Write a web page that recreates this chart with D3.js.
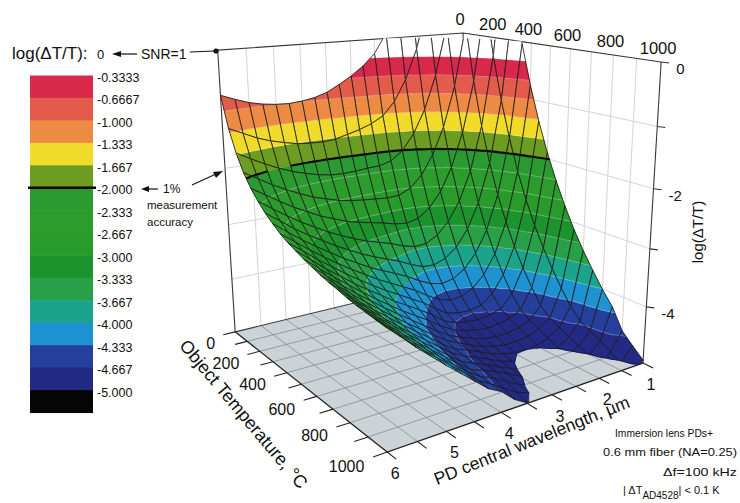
<!DOCTYPE html>
<html>
<head>
<meta charset="utf-8">
<script src="https://cdn.jsdelivr.net/npm/d3@7"></script>
<style>
body{margin:0;background:#fff;}
svg text{font-family:"Liberation Sans",Arial,Helvetica,sans-serif;fill:#111;}
</style>
</head>
<body>
<svg id="chart" width="740" height="503"></svg>
<script>
// object temperature (rows) and PD central wavelength (columns)
var tempC = [0,50,100,150,200,250,300,350,400,450,500,550,600,650,700,750,800,850,900,950,1000];
var wavelength = [1,1.25,1.5,1.75,2,2.25,2.5,2.75,3,3.25,3.5,3.75,4,4.25,4.5,4.75,5,5.25,5.5,5.75,6];

// log(dT/T), one row per temperature
var logDT = [
 [12.45,8.19,5.45,3.59,2.26,1.30,0.60,0.09,-0.26,-0.47,-0.63,-0.76,-0.88,-0.95,-0.99,-1.01,-1.00,-0.97,-0.92,-0.84,-0.75],
 [8.99,5.43,3.16,1.64,0.57,-0.20,-0.75,-1.13,-1.37,-1.49,-1.57,-1.63,-1.69,-1.71,-1.70,-1.68,-1.63,-1.57,-1.49,-1.38,-1.27],
 [6.46,3.42,1.50,0.22,-0.67,-1.29,-1.72,-2.01,-2.17,-2.23,-2.24,-2.26,-2.27,-2.26,-2.22,-2.16,-2.09,-2.00,-1.89,-1.77,-1.64],
 [4.53,1.89,0.23,-0.86,-1.60,-2.11,-2.46,-2.67,-2.77,-2.78,-2.76,-2.74,-2.71,-2.67,-2.60,-2.53,-2.43,-2.32,-2.20,-2.06,-1.92],
 [3.02,0.69,-0.76,-1.70,-2.33,-2.76,-3.03,-3.19,-3.24,-3.21,-3.15,-3.10,-3.05,-2.99,-2.90,-2.81,-2.69,-2.57,-2.43,-2.28,-2.13],
 [1.80,-0.28,-1.56,-2.38,-2.92,-3.27,-3.49,-3.61,-3.62,-3.56,-3.47,-3.40,-3.33,-3.24,-3.14,-3.03,-2.90,-2.77,-2.62,-2.46,-2.29],
 [0.80,-1.07,-2.21,-2.93,-3.40,-3.70,-3.87,-3.95,-3.93,-3.84,-3.73,-3.64,-3.55,-3.45,-3.33,-3.21,-3.07,-2.93,-2.78,-2.60,-2.43],
 [-0.04,-1.73,-2.76,-3.40,-3.80,-4.05,-4.19,-4.23,-4.18,-4.07,-3.94,-3.83,-3.73,-3.62,-3.49,-3.36,-3.21,-3.06,-2.90,-2.72,-2.54],
 [-0.75,-2.30,-3.22,-3.79,-4.14,-4.35,-4.45,-4.47,-4.40,-4.27,-4.12,-4.00,-3.88,-3.76,-3.62,-3.48,-3.33,-3.17,-3.00,-2.82,-2.64],
 [-1.36,-2.78,-3.62,-4.12,-4.43,-4.60,-4.64,-4.63,-4.58,-4.43,-4.27,-4.14,-4.01,-3.88,-3.74,-3.59,-3.43,-3.26,-3.09,-2.90,-2.72],
 [-1.89,-3.20,-3.96,-4.41,-4.64,-4.70,-4.73,-4.71,-4.67,-4.58,-4.40,-4.26,-4.12,-3.99,-3.83,-3.68,-3.52,-3.34,-3.17,-2.97,-2.78],
 [-2.35,-3.56,-4.26,-4.63,-4.74,-4.79,-4.81,-4.78,-4.73,-4.65,-4.52,-4.36,-4.22,-4.08,-3.92,-3.76,-3.59,-3.41,-3.23,-3.04,-2.84],
 [-2.76,-3.88,-4.53,-4.74,-4.83,-4.87,-4.88,-4.85,-4.79,-4.70,-4.61,-4.46,-4.31,-4.15,-3.99,-3.83,-3.65,-3.48,-3.29,-3.09,-2.89],
 [-3.13,-4.17,-4.68,-4.83,-4.91,-4.94,-4.94,-4.90,-4.84,-4.75,-4.65,-4.54,-4.38,-4.22,-4.06,-3.89,-3.71,-3.53,-3.34,-3.14,-2.94],
 [-3.45,-4.43,-4.77,-4.91,-4.98,-5.00,-4.99,-4.95,-4.88,-4.78,-4.68,-4.60,-4.45,-4.28,-4.11,-3.94,-3.76,-3.58,-3.39,-3.18,-2.98],
 [-3.74,-4.62,-4.86,-4.99,-5.05,-5.06,-5.04,-4.99,-4.92,-4.82,-4.72,-4.63,-4.51,-4.34,-4.16,-3.99,-3.81,-3.62,-3.42,-3.22,-3.01],
 [-4.01,-4.72,-4.94,-5.05,-5.10,-5.11,-5.08,-5.04,-4.95,-4.85,-4.75,-4.66,-4.56,-4.39,-4.21,-4.03,-3.84,-3.65,-3.46,-3.25,-3.05],
 [-4.25,-4.81,-5.01,-5.11,-5.15,-5.15,-5.13,-5.07,-4.99,-4.88,-4.77,-4.68,-4.60,-4.43,-4.25,-4.07,-3.88,-3.69,-3.49,-3.28,-3.08],
 [-4.60,-4.93,-5.08,-5.17,-5.20,-5.19,-5.16,-5.10,-5.04,-4.96,-4.84,-4.71,-4.62,-4.47,-4.29,-4.10,-3.91,-3.72,-3.52,-3.31,-3.10],
 [-4.78,-5.02,-5.14,-5.22,-5.24,-5.23,-5.19,-5.13,-5.08,-5.00,-4.92,-4.78,-4.64,-4.51,-4.32,-4.13,-3.94,-3.75,-3.55,-3.33,-3.12],
 [-4.95,-5.10,-5.19,-5.26,-5.28,-5.27,-5.23,-5.16,-5.12,-5.06,-4.99,-4.86,-4.66,-4.54,-4.35,-4.16,-3.97,-3.77,-3.57,-3.35,-3.14]
];

// colour levels, bottom to top
var levels = [-5,-4.6667,-4.3333,-4,-3.6667,-3.3333,-3,-2.6667,-2.3333,-2,-1.6667,-1.3333,-1,-0.6667,-0.3333,0];
var levelColors = ["#232a85","#253f9c","#1f93d1","#1ba38b","#27a047","#1c932d","#289b2b","#2c9c2d","#2b9b31","#6c9c22","#f0db2b","#ed8b45","#e35b4a","#d9294a","#ffffff"];
var colorbarLabels = ["-0.3333","-0.6667","-1.000","-1.333","-1.667","-2.000","-2.333","-2.667","-3.000","-3.333","-3.667","-4.000","-4.333","-4.667","-5.000"];
var tempTicks = [0,200,400,600,800,1000];
var waveTicks = [1,2,3,4,5,6];
var zTicks = [0,-2,-4];

var xT = d3.scaleLinear().domain([0,1000]).range([0,1]);
var yL = d3.scaleLinear().domain([1,6]).range([0,1]);
var zS = d3.scaleLinear().domain([-5,0]).range([0,1]);

// where the box corners sit on the page; used to fit a camera
var anchors = [
  [0,1,0, 235,332],[1,1,0, 387,452],[1,0,0, 644,362],
  [0,1,1, 218,50],[0,0,1, 463,33],[1,0,1, 661,61],
  [1,0,0.8, 657.5,127],[1,0,0.6, 653.5,190],[1,0,0.4, 649.5,248],[1,0,0.2, 645.6,308]
];

function fitCamera(pairs){
  var n = 11, N = [], r = [];
  for (var i=0;i<n;i++){ N.push(new Array(n).fill(0)); r.push(0); }
  pairs.forEach(function(p){
    var X=p[0],Y=p[1],Z=p[2],u=p[3],v=p[4];
    var rows = [[X,Y,Z,1,0,0,0,0,-u*X,-u*Y,-u*Z,u],[0,0,0,0,X,Y,Z,1,-v*X,-v*Y,-v*Z,v]];
    rows.forEach(function(row){
      for (var i=0;i<n;i++){ r[i]+=row[i]*row[n]; for (var j=0;j<n;j++) N[i][j]+=row[i]*row[j]; }
    });
  });
  for (var c=0;c<n;c++){
    var piv=c;
    for (var i=c+1;i<n;i++) if (Math.abs(N[i][c])>Math.abs(N[piv][c])) piv=i;
    var tmp=N[c]; N[c]=N[piv]; N[piv]=tmp; var tr=r[c]; r[c]=r[piv]; r[piv]=tr;
    for (var i=c+1;i<n;i++){
      var f=N[i][c]/N[c][c];
      for (var j=c;j<n;j++) N[i][j]-=f*N[c][j];
      r[i]-=f*r[c];
    }
  }
  var p=new Array(n);
  for (var i=n-1;i>=0;i--){ var s=r[i]; for (var j=i+1;j<n;j++) s-=N[i][j]*p[j]; p[i]=s/N[i][i]; }
  return p;
}
var cam = fitCamera(anchors);
function proj(X,Y,Z){
  var w = cam[8]*X+cam[9]*Y+cam[10]*Z+1;
  return [(cam[0]*X+cam[1]*Y+cam[2]*Z+cam[3])/w,(cam[4]*X+cam[5]*Y+cam[6]*Z+cam[7])/w,w];
}
function pt(X,Y,Z){ var p=proj(X,Y,Z); return [p[0],p[1]]; }

var svg = d3.select("#chart");
var line = d3.line();

function seg(g,a,b,stroke,w){
  g.append("line").attr("x1",a[0]).attr("y1",a[1]).attr("x2",b[0]).attr("y2",b[1])
   .attr("stroke",stroke).attr("stroke-width",w);
}

// back walls
var back = svg.append("g");
back.append("path").attr("d",line([pt(0,0,0),pt(0,1,0),pt(0,1,1),pt(0,0,1)])+"Z").attr("fill","#fff");
back.append("path").attr("d",line([pt(0,0,0),pt(1,0,0),pt(1,0,1),pt(0,0,1)])+"Z").attr("fill","#fff");
d3.range(1.5,6,0.5).forEach(function(l){ seg(back,pt(0,yL(l),0),pt(0,yL(l),1),"#cfcfcf",0.9); });
d3.range(100,1000,100).forEach(function(t){ seg(back,pt(xT(t),0,0),pt(xT(t),0,1),"#cfcfcf",0.9); });
d3.range(-4,0,1).forEach(function(z){
  seg(back,pt(0,1,zS(z)),pt(0,0,zS(z)),"#cfcfcf",0.9);
  seg(back,pt(0,0,zS(z)),pt(1,0,zS(z)),"#cfcfcf",0.9);
});

// floor
var floor = svg.append("g");
floor.append("path").attr("d",line([pt(0,0,0),pt(1,0,0),pt(1,1,0),pt(0,1,0)])+"Z").attr("fill","#cbd3d7");
d3.range(100,1000,100).forEach(function(t){ seg(floor,pt(xT(t),0,0),pt(xT(t),1,0),"#858d92",0.8); });
d3.range(1.5,6,0.5).forEach(function(l){ seg(floor,pt(0,yL(l),0),pt(1,yL(l),0),"#858d92",0.8); });

// box edges
var edges = svg.append("g").attr("fill","none");
[[pt(0,1,0),pt(0,1,1)],[pt(0,0,0),pt(0,0,1)],[pt(1,0,0),pt(1,0,1)],
 [pt(0,1,1),pt(0,0,1),pt(1,0,1)],[pt(0,1,0),pt(0,0,0),pt(1,0,0)]].forEach(function(l){
  edges.append("path").attr("d",line(l)).attr("stroke","#3a3a3a").attr("stroke-width",1.1);
});
edges.append("path").attr("d",line([pt(0,1,0),pt(1,1,0),pt(1,0,0)])).attr("stroke","#222").attr("stroke-width",1.3);
d3.range(0,1001,100).forEach(function(t){ seg(edges,pt(xT(t),1,0),pt(xT(t),1.045,0),"#222",1.1); });
d3.range(1,6.01,0.5).forEach(function(l){ seg(edges,pt(1,yL(l),0),pt(1.045,yL(l),0),"#222",1.1); });

// surface
function lerpV(a,b,t){ return {X:a.X+(b.X-a.X)*t,Y:a.Y+(b.Y-a.Y)*t,z:a.z+(b.z-a.z)*t}; }
function clipHalf(poly,level,sign){
  var out=[];
  for (var k=0;k<poly.length;k++){
    var a=poly[(k+poly.length-1)%poly.length], b=poly[k];
    var fa=sign*(a.z-level), fb=sign*(b.z-level);
    if (fb>=0){ if (fa<0) out.push(lerpV(a,b,fa/(fa-fb))); out.push(b); }
    else if (fa>=0) out.push(lerpV(a,b,fa/(fa-fb)));
  }
  return out;
}
function sp(v){ var p=proj(v.X,v.Y,zS(v.z)); return p[0].toFixed(2)+","+p[1].toFixed(2); }
function polyPath(poly){ return "M"+poly.map(sp).join("L")+"Z"; }
function isoSeg(tri,L){
  var pts=[];
  for (var k=0;k<3;k++){
    var a=tri[k], b=tri[(k+1)%3];
    if ((a.z-L)*(b.z-L)<0) pts.push(lerpV(a,b,(L-a.z)/(b.z-a.z)));
  }
  return pts.length==2 ? "M"+sp(pts[0])+"L"+sp(pts[1]) : "";
}
function clipSeg(a,b,lo,hi){
  var dz=b.z-a.z;
  if (Math.abs(dz)<1e-9) return (a.z>=lo && a.z<=hi) ? [a,b] : null;
  var t1=(lo-a.z)/dz, t2=(hi-a.z)/dz;
  var t0=Math.max(0,Math.min(t1,t2)), tE=Math.min(1,Math.max(t1,t2));
  if (t0>=tE) return null;
  return [lerpV(a,b,t0),lerpV(a,b,tE)];
}

var cells=[];
for (var i=0;i<tempC.length-1;i++){
  for (var j=0;j<wavelength.length-1;j++){
    var v=[[i,j],[i+1,j],[i+1,j+1],[i,j+1]].map(function(ij){
      return {X:xT(tempC[ij[0]]),Y:yL(wavelength[ij[1]]),z:logDT[ij[0]][ij[1]]};
    });
    var cz=d3.mean(v,function(d){ return Math.max(-5,Math.min(0,d.z)); });
    var c=proj(d3.mean(v,function(d){return d.X;}),d3.mean(v,function(d){return d.Y;}),zS(cz));
    cells.push({v:v,depth:c[2]});
  }
}
var farBig = proj(0,0,1)[2] > proj(1,1,0)[2];
cells.sort(function(a,b){ return farBig ? b.depth-a.depth : a.depth-b.depth; });

var surf = svg.append("g");
cells.forEach(function(cell){
  var v=cell.v, tris=[[v[0],v[1],v[2]],[v[0],v[2],v[3]]];
  var g=surf.append("g");
  for (var k=0;k<levelColors.length;k++){
    var d="";
    tris.forEach(function(t){
      var p=clipHalf(clipHalf(t,levels[k],1),levels[k+1],-1);
      if (p.length>=3) d+=polyPath(p);
    });
    if (d) g.append("path").attr("d",d).attr("fill",levelColors[k]).attr("stroke",levelColors[k]).attr("stroke-width",0.4);
  }
  var light="", heavy="", rim="";
  tris.forEach(function(t){
    for (var k=1;k<levels.length-2;k++){
      if (levels[k]==-2) heavy+=isoSeg(t,-2); else light+=isoSeg(t,levels[k]);
    }
    rim+=isoSeg(t,-5);
  });
  if (light) g.append("path").attr("d",light).attr("fill","none").attr("stroke","rgba(255,255,255,0.35)").attr("stroke-width",0.7);
  var mesh="";
  for (var k=0;k<4;k++){
    var s=clipSeg(v[k],v[(k+1)%4],-5,0);
    if (s) mesh+="M"+sp(s[0])+"L"+sp(s[1]);
  }
  if (mesh) g.append("path").attr("d",mesh).attr("fill","none").attr("stroke","#1c1c1c").attr("stroke-width",0.85);
  if (rim) g.append("path").attr("d",rim).attr("fill","none").attr("stroke","#15154a").attr("stroke-width",1);
  if (heavy) g.append("path").attr("d",heavy).attr("fill","none").attr("stroke","#0a0a0a").attr("stroke-width",2.2);
});

// axes labels
var lab = svg.append("g");
tempTicks.forEach(function(t){
  var p=pt(xT(t),1.06,0);
  lab.append("text").attr("x",p[0]-4).attr("y",p[1]+13).attr("text-anchor","end").attr("font-size",16).text(t);
  var q=pt(xT(t),0,1);
  lab.append("text").attr("x",q[0]-3).attr("y",q[1]-8).attr("text-anchor","middle").attr("font-size",16.5).text(t);
});
waveTicks.forEach(function(l){
  var p=pt(1,yL(l),0);
  lab.append("text").attr("x",p[0]+8).attr("y",p[1]+27).attr("text-anchor","middle").attr("font-size",16).text(l);
});
d3.range(0,-5,-1).forEach(function(z){
  var p=pt(1,0,zS(z));
  seg(lab,p,[p[0]+8,p[1]+1],"#333",1.1);
});
zTicks.forEach(function(z){
  var p=pt(1,0,zS(z));
  lab.append("text").attr("x",p[0]+15).attr("y",p[1]+12).attr("font-size",15).text(z==0?"0":"-"+Math.abs(z));
});
lab.append("text").attr("transform","translate(703,232) rotate(-90)").attr("text-anchor","middle").attr("font-size",15).text("log(\u0394T/T)");
lab.append("text").attr("transform","translate(239,418) rotate(50)").attr("text-anchor","middle").attr("font-size",18).text("Object Temperature, \u00b0C");
lab.append("text").attr("transform","translate(534,446) rotate(-22)").attr("text-anchor","middle").attr("font-size",17.5).text("PD central wavelength, \u00b5m");

// colour bar
var cb = svg.append("g");
var cbTop=75.5, cbH=22.47;
var cbColors = levelColors.slice(0,14).reverse().concat(["#050505"]);
cbColors.forEach(function(c,k){
  cb.append("rect").attr("x",30).attr("y",cbTop+k*cbH).attr("width",63).attr("height",cbH+0.5).attr("fill",c);
});
cb.append("line").attr("x1",28).attr("x2",96).attr("y1",cbTop+5*cbH).attr("y2",cbTop+5*cbH).attr("stroke","#000").attr("stroke-width",2.5);
colorbarLabels.forEach(function(s,k){
  cb.append("text").attr("x",97).attr("y",cbTop+k*cbH+6.5).attr("font-size",12.5).text(s);
});

// annotations
var an = svg.append("g");
an.append("text").attr("x",12).attr("y",59).attr("font-size",17).text("log(\u0394T/T):");
an.append("text").attr("x",97).attr("y",59).attr("font-size",13).text("0");
an.append("line").attr("x1",118).attr("x2",137).attr("y1",54).attr("y2",54).attr("stroke","#111").attr("stroke-width",1.2);
an.append("path").attr("d","M112,54L121,51L121,57Z").attr("fill","#111");
an.append("text").attr("x",141).attr("y",59).attr("font-size",14).text("SNR=1");
an.append("line").attr("x1",190).attr("x2",215).attr("y1",52).attr("y2",51).attr("stroke","#111").attr("stroke-width",1.1);
an.append("circle").attr("cx",216).attr("cy",51).attr("r",2.6).attr("fill","#111");
an.append("line").attr("x1",147).attr("x2",158).attr("y1",189).attr("y2",189).attr("stroke","#111").attr("stroke-width",1.2);
an.append("path").attr("d","M141,189L149,186L149,192Z").attr("fill","#111");
an.append("text").attr("x",163).attr("y",193).attr("font-size",12).text("1%");
an.append("line").attr("x1",192).attr("y1",185).attr("x2",216).attr("y2",174).attr("stroke","#111").attr("stroke-width",1.1);
an.append("path").attr("d","M223,171L213,172L216,178Z").attr("fill","#111");
an.append("text").attr("x",147).attr("y",209).attr("font-size",11.5).text("measurement");
an.append("text").attr("x",147).attr("y",226).attr("font-size",11.5).text("accuracy");

var note = svg.append("g").attr("font-size",11);
note.append("text").attr("x",615).attr("y",437).attr("textLength",98).attr("lengthAdjust","spacingAndGlyphs").text("Immersion lens PDs+");
note.append("text").attr("x",603).attr("y",456).attr("textLength",134).attr("lengthAdjust","spacingAndGlyphs").text("0.6 mm fiber (NA=0.25)");
note.append("text").attr("x",663).attr("y",476).attr("textLength",74).attr("lengthAdjust","spacingAndGlyphs").text("\u0394f=100 kHz");
var t4 = note.append("text").attr("x",623).attr("y",494);
t4.append("tspan").text("| \u0394T");
t4.append("tspan").attr("dy",5).attr("font-size",10).text("AD4528");
t4.append("tspan").attr("dy",-5).text("| < 0.1 K");
</script>
</body>
</html>
